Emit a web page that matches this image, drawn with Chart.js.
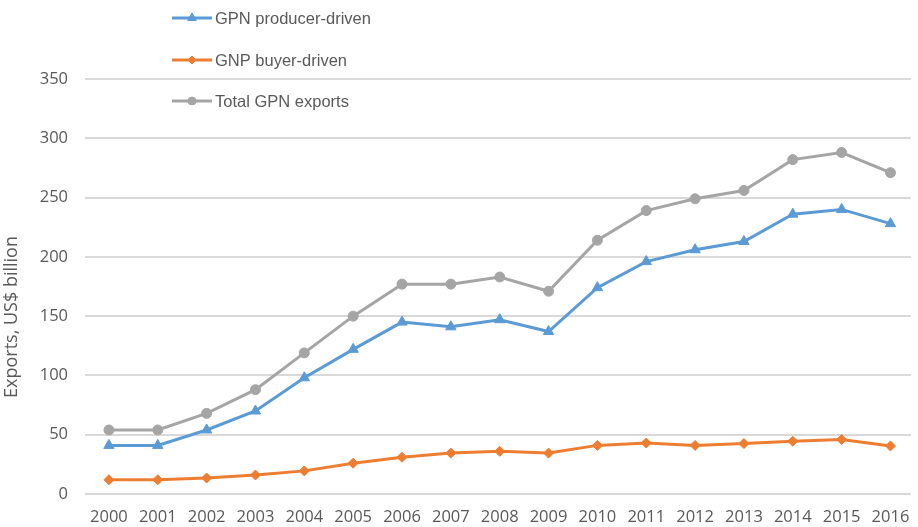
<!DOCTYPE html>
<html>
<head>
<meta charset="utf-8">
<script src="https://cdn.jsdelivr.net/npm/chart.js@4/dist/chart.umd.min.js"></script>
<style>
  html, body { margin: 0; padding: 0; background: #fff; overflow: hidden; }
  #wrap { position: relative; width: 918px; height: 527px; }
</style>
</head>
<body>
<div id="wrap"><canvas id="c" width="918" height="527"></canvas></div>
<script>
const years = ['2000','2001','2002','2003','2004','2005','2006','2007','2008','2009','2010','2011','2012','2013','2014','2015','2016'];
const producerDriven = [41, 41, 54, 70, 98, 122, 145, 141, 147, 137, 174, 196, 206, 213, 236, 240, 228];
const buyerDriven = [12, 12, 13.5, 16, 19.5, 26, 31, 34.5, 36, 34.5, 41, 43, 41, 42.5, 44.5, 46, 40.5];
const totalExports = [54, 54, 68, 88, 119, 150, 177, 177, 183, 171, 214, 239, 249, 256, 282, 288, 271];
const yTicks = [0, 50, 100, 150, 200, 250, 300, 350];

const BLUE = '#5B9BD5', ORANGE = '#ED7D31', GREY = '#A5A5A5', TEXT = '#595959';
const tickFont = { family: '"Open Sans", sans-serif', size: 16.5 };

// pair each value with its year position on the x scale
const asPoints = arr => arr.map((v, i) => ({ x: i, y: v }));

// Legend drawn as a vertical column over the top-left of the plot
const columnLegend = {
  id: 'columnLegend',
  afterDraw(chart) {
    const ctx = chart.ctx;
    const x0 = 172, lineLen = 40, rows = [18, 60, 101];
    ctx.save();
    chart.data.datasets.forEach((ds, i) => {
      const y = rows[i];
      ctx.strokeStyle = ds.borderColor;
      ctx.fillStyle = ds.borderColor;
      ctx.lineWidth = 3;
      ctx.beginPath();
      ctx.moveTo(x0, y);
      ctx.lineTo(x0 + lineLen, y);
      ctx.stroke();
      ctx.lineWidth = 1;
      Chart.helpers.drawPoint(ctx, {
        pointStyle: ds.pointStyle,
        radius: ds.pointRadius - 1,
        rotation: 0,
        borderWidth: 1
      }, x0 + lineLen / 2, y);
      ctx.fillStyle = TEXT;
      ctx.font = '16.5px "Liberation Sans", Arial, sans-serif';
      ctx.textBaseline = 'middle';
      ctx.textAlign = 'left';
      ctx.fillText(ds.label, x0 + lineLen + 3, y + 1);
    });
    ctx.restore();
  }
};

// Rotated y-axis title
const yTitle = {
  id: 'yTitle',
  afterDraw(chart) {
    const ctx = chart.ctx;
    ctx.save();
    ctx.translate(12, 317);
    ctx.rotate(-Math.PI / 2);
    ctx.fillStyle = TEXT;
    ctx.font = '18px "Open Sans", sans-serif';
    ctx.textAlign = 'center';
    ctx.textBaseline = 'middle';
    ctx.fillText('Exports, US$ billion', 0, 0);
    ctx.restore();
  }
};

new Chart(document.getElementById('c'), {
  type: 'line',
  data: {
    datasets: [
      { label: 'GPN producer-driven', data: asPoints(producerDriven), borderColor: BLUE, backgroundColor: BLUE,
        pointStyle: 'triangle', pointRadius: 6, pointBorderWidth: 1, borderWidth: 3, tension: 0 },
      { label: 'GNP buyer-driven', data: asPoints(buyerDriven), borderColor: ORANGE, backgroundColor: ORANGE,
        pointStyle: 'rectRot', pointRadius: 5, pointBorderWidth: 1, borderWidth: 3, tension: 0 },
      { label: 'Total GPN exports', data: asPoints(totalExports), borderColor: GREY, backgroundColor: GREY,
        pointStyle: 'circle', pointRadius: 5, pointBorderWidth: 1, borderWidth: 3, tension: 0 }
    ]
  },
  options: {
    responsive: false,
    animation: false,
    devicePixelRatio: 1,
    clip: false,
    layout: { padding: { top: 79, right: 0, left: 0, bottom: 0 } },
    plugins: { legend: { display: false }, tooltip: { enabled: false } },
    scales: {
      x: {
        type: 'linear',
        min: -0.49,
        max: 16.42,
        afterBuildTicks(axis) { axis.ticks = years.map((_, i) => ({ value: i })); },
        afterFit(axis) { axis.height = 33; },
        grid: { display: false },
        border: { display: false },
        ticks: { font: tickFont, color: TEXT, padding: 5, maxRotation: 0, autoSkip: false,
                 callback: v => years[v] }
      },
      y: {
        min: 0, max: 350,
        afterBuildTicks(axis) { axis.ticks = yTicks.map(v => ({ value: v })); },
        afterFit(axis) { axis.width = 85; },
        grid: { color: '#D9D9D9', lineWidth: 2, drawTicks: false },
        border: { display: false },
        ticks: { font: tickFont, color: TEXT, padding: 17 }
      }
    }
  },
  plugins: [columnLegend, yTitle]
});
</script>
</body>
</html>
